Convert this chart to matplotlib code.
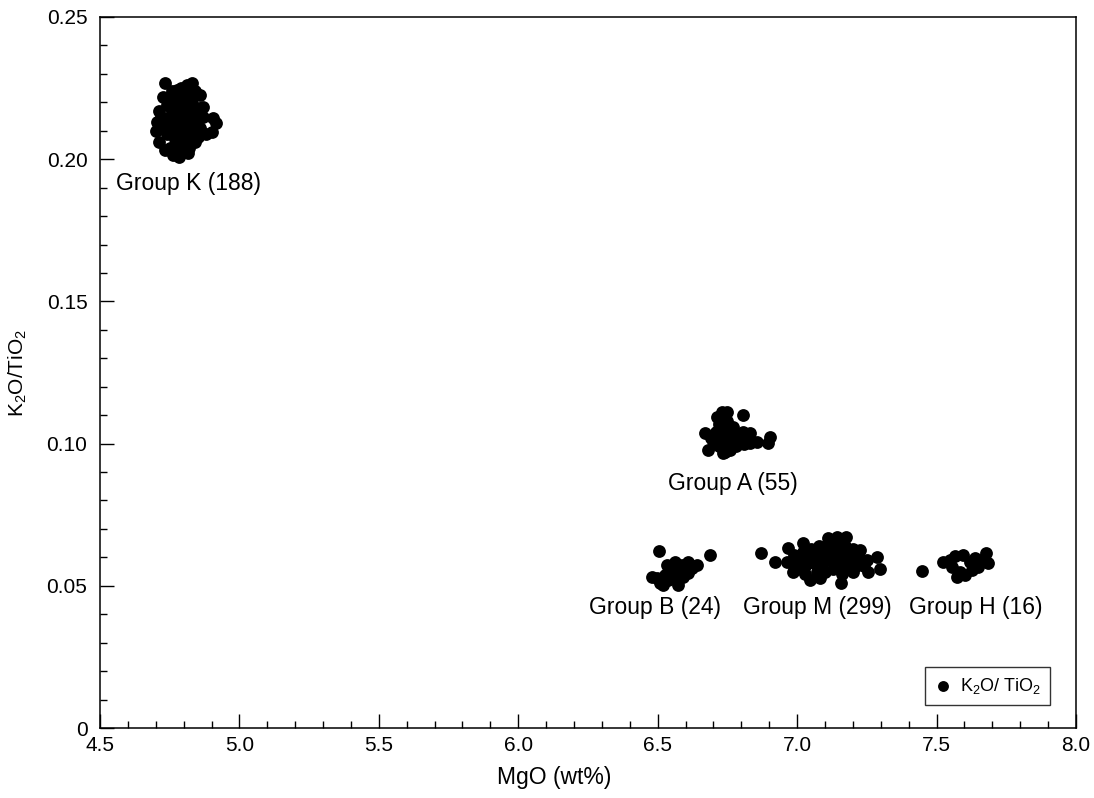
import numpy as np
import matplotlib
matplotlib.use("Agg")
import matplotlib.pyplot as plt
from matplotlib.ticker import MultipleLocator, FuncFormatter

plt.rcParams['font.family'] = ['Liberation Sans', 'DejaVu Sans']
plt.rcParams['mathtext.default'] = 'regular'

# group K
k_mgo = [4.733, 4.829, 4.811, 4.725, 4.712, 4.703, 4.701, 4.713, 4.733, 4.763,
         4.784, 4.817, 4.852, 4.904, 4.916, 4.900, 4.859, 4.775, 4.869,
         4.76, 4.79, 4.84, 4.80, 4.77, 4.74, 4.82, 4.85, 4.79, 4.75,
         4.81, 4.84, 4.77, 4.73, 4.80, 4.86, 4.74, 4.78, 4.82, 4.80,
         4.84, 4.75, 4.79, 4.82, 4.87, 4.83, 4.72, 4.88,
         4.78, 4.81, 4.83, 4.76, 4.79, 4.82, 4.85, 4.76, 4.79, 4.82,
         4.75, 4.78, 4.81, 4.84, 4.77, 4.80, 4.83, 4.78, 4.81, 4.77]
k_ratio = [0.2267, 0.2267, 0.2261, 0.2218, 0.2171, 0.2132, 0.2100, 0.2062, 0.2032, 0.2015,
           0.2007, 0.2021, 0.2079, 0.2144, 0.2126, 0.2097, 0.2226, 0.2243, 0.2185,
           0.224, 0.225, 0.224, 0.222, 0.220, 0.219, 0.219, 0.218, 0.217, 0.215,
           0.215, 0.214, 0.213, 0.212, 0.212, 0.211, 0.209, 0.209, 0.209, 0.206,
           0.206, 0.204, 0.203, 0.204, 0.215, 0.211, 0.215, 0.209,
           0.223, 0.224, 0.221, 0.222, 0.220, 0.217, 0.216, 0.217, 0.214, 0.213,
           0.211, 0.211, 0.210, 0.208, 0.207, 0.208, 0.206, 0.205, 0.205, 0.2035]

# group A
a_mgo = [6.729, 6.747, 6.807, 6.711, 6.670, 6.681, 6.735, 6.759, 6.831, 6.855,
         6.903, 6.897, 6.807, 6.831,
         6.72, 6.75, 6.74, 6.71, 6.77, 6.70, 6.73, 6.76, 6.79, 6.72,
         6.75, 6.78, 6.74, 6.81, 6.69, 6.76, 6.73,
         6.74, 6.77, 6.72, 6.75, 6.78, 6.71, 6.74, 6.77, 6.80]
a_ratio = [0.1112, 0.1112, 0.1101, 0.1095, 0.1036, 0.0977, 0.0966, 0.0977, 0.1001, 0.1007,
           0.1024, 0.1003, 0.1042, 0.1036,
           0.107, 0.108, 0.105, 0.104, 0.104, 0.101, 0.102, 0.101, 0.102, 0.099,
           0.099, 0.099, 0.097, 0.100, 0.102, 0.106, 0.109,
           0.110, 0.106, 0.105, 0.103, 0.102, 0.100, 0.100, 0.100, 0.101]

# group B
b_mgo = [6.506, 6.687, 6.478, 6.508, 6.532, 6.562, 6.610, 6.640, 6.574, 6.580,
         6.610, 6.550, 6.538, 6.598, 6.556, 6.586, 6.568, 6.496, 6.622, 6.520,
         6.592, 6.544, 6.574, 6.526]
b_ratio = [0.0622, 0.0608, 0.0532, 0.0509, 0.0573, 0.0585, 0.0585, 0.0573, 0.0503, 0.0538,
           0.0544, 0.0550, 0.0520, 0.0562, 0.0567, 0.0573, 0.0526, 0.0526, 0.0562, 0.0503,
           0.0532, 0.0562, 0.0556, 0.0538]

# group M
m_mgo = [6.869, 6.921, 6.968, 7.022, 7.142, 7.177, 7.112, 7.225, 7.285, 7.297,
         7.255, 7.159, 7.046, 6.986, 6.962, 7.082,
         6.99, 7.02, 7.05, 7.08, 7.11, 7.14, 7.17, 7.20,
         6.98, 7.01, 7.04, 7.07, 7.10, 7.13, 7.16, 7.19, 7.22, 7.25,
         7.00, 7.03, 7.06, 7.09, 7.12, 7.15, 7.18, 7.21, 7.24,
         7.03, 7.07, 7.10, 7.13, 7.16, 7.20,
         7.005, 7.035, 7.065, 7.095, 7.125, 7.155, 7.185, 7.215,
         7.015, 7.045, 7.075, 7.105, 7.135, 7.165, 7.195, 7.23]
m_ratio = [0.0614, 0.0583, 0.0632, 0.0649, 0.0673, 0.0673, 0.0667, 0.0626, 0.0602, 0.0558,
           0.0550, 0.0509, 0.0520, 0.0550, 0.0585, 0.0526,
           0.061, 0.062, 0.063, 0.064, 0.064, 0.065, 0.064, 0.063,
           0.058, 0.059, 0.060, 0.061, 0.061, 0.062, 0.061, 0.060, 0.060, 0.059,
           0.056, 0.057, 0.058, 0.058, 0.059, 0.058, 0.057, 0.057, 0.057,
           0.054, 0.055, 0.055, 0.056, 0.054, 0.055,
           0.0595, 0.0605, 0.0615, 0.0625, 0.063, 0.0635, 0.0625, 0.0615,
           0.0575, 0.0585, 0.0595, 0.060, 0.0605, 0.0595, 0.0585, 0.0585]

# group H
h_mgo = [7.447, 7.522, 7.554, 7.566, 7.594, 7.572, 7.602, 7.626, 7.650, 7.677,
         7.685, 7.638, 7.620, 7.584, 7.656, 7.548]
h_ratio = [0.0553, 0.0583, 0.0567, 0.0605, 0.0608, 0.0532, 0.0538, 0.0556, 0.0567, 0.0614,
           0.0579, 0.0597, 0.0585, 0.0550, 0.0591, 0.0591]

group_labels = ["Group K (188)", "Group A (55)", "Group B (24)", "Group M (299)", "Group H (16)"]
label_x = [4.816, 6.770, 6.490, 7.071, 7.641]
label_y = [0.1916, 0.0861, 0.0425, 0.0425, 0.0425]

mgo = np.concatenate([k_mgo, a_mgo, b_mgo, m_mgo, h_mgo])
ratio = np.concatenate([k_ratio, a_ratio, b_ratio, m_ratio, h_ratio])

fig = plt.figure(figsize=(10.94, 7.98), dpi=100)
ax = fig.add_axes([0.0914, 0.0877, 0.8921, 0.891])

ax.scatter(mgo, ratio, s=85, c='black', linewidths=0, label=r'K$_2$O/ TiO$_2$', zorder=3)

for txt, x, y in zip(group_labels, label_x, label_y):
    ax.text(x, y, txt, ha='center', va='center', fontsize=16.5)

ax.set_xlim(4.5, 8.0)
ax.set_ylim(0, 0.25)
ax.xaxis.set_major_locator(MultipleLocator(0.5))
ax.xaxis.set_minor_locator(MultipleLocator(0.1))
ax.yaxis.set_major_locator(MultipleLocator(0.05))
ax.yaxis.set_minor_locator(MultipleLocator(0.01))
ax.xaxis.set_major_formatter(FuncFormatter(lambda v, p: f"{v:.1f}"))
ax.yaxis.set_major_formatter(FuncFormatter(lambda v, p: "0" if abs(v) < 1e-9 else f"{v:.2f}"))

ax.tick_params(which='both', direction='in', top=False, right=False, labelsize=15, width=1)
ax.tick_params(which='major', length=10, pad=6)
ax.tick_params(which='minor', length=5)
ax.tick_params(axis='y', which='major', pad=9)
for sp in ax.spines.values():
    sp.set_linewidth(1.1)

ax.set_xlabel("MgO (wt%)", fontsize=16.5)
ax.xaxis.set_label_coords(0.465, -0.054)
ax.set_ylabel(r"K$_2$O/TiO$_2$", fontsize=15)
ax.yaxis.set_label_coords(-0.073, 0.5)

leg = ax.legend(loc='lower right', bbox_to_anchor=(0.9734, 0.032), fontsize=13,
                frameon=True, fancybox=False, edgecolor='black', handletextpad=0.4,
                borderpad=0.5, markerscale=0.85, handlelength=1.0, borderaxespad=0)
leg.get_frame().set_linewidth(1.0)

fig.savefig("out.png", dpi=100)
